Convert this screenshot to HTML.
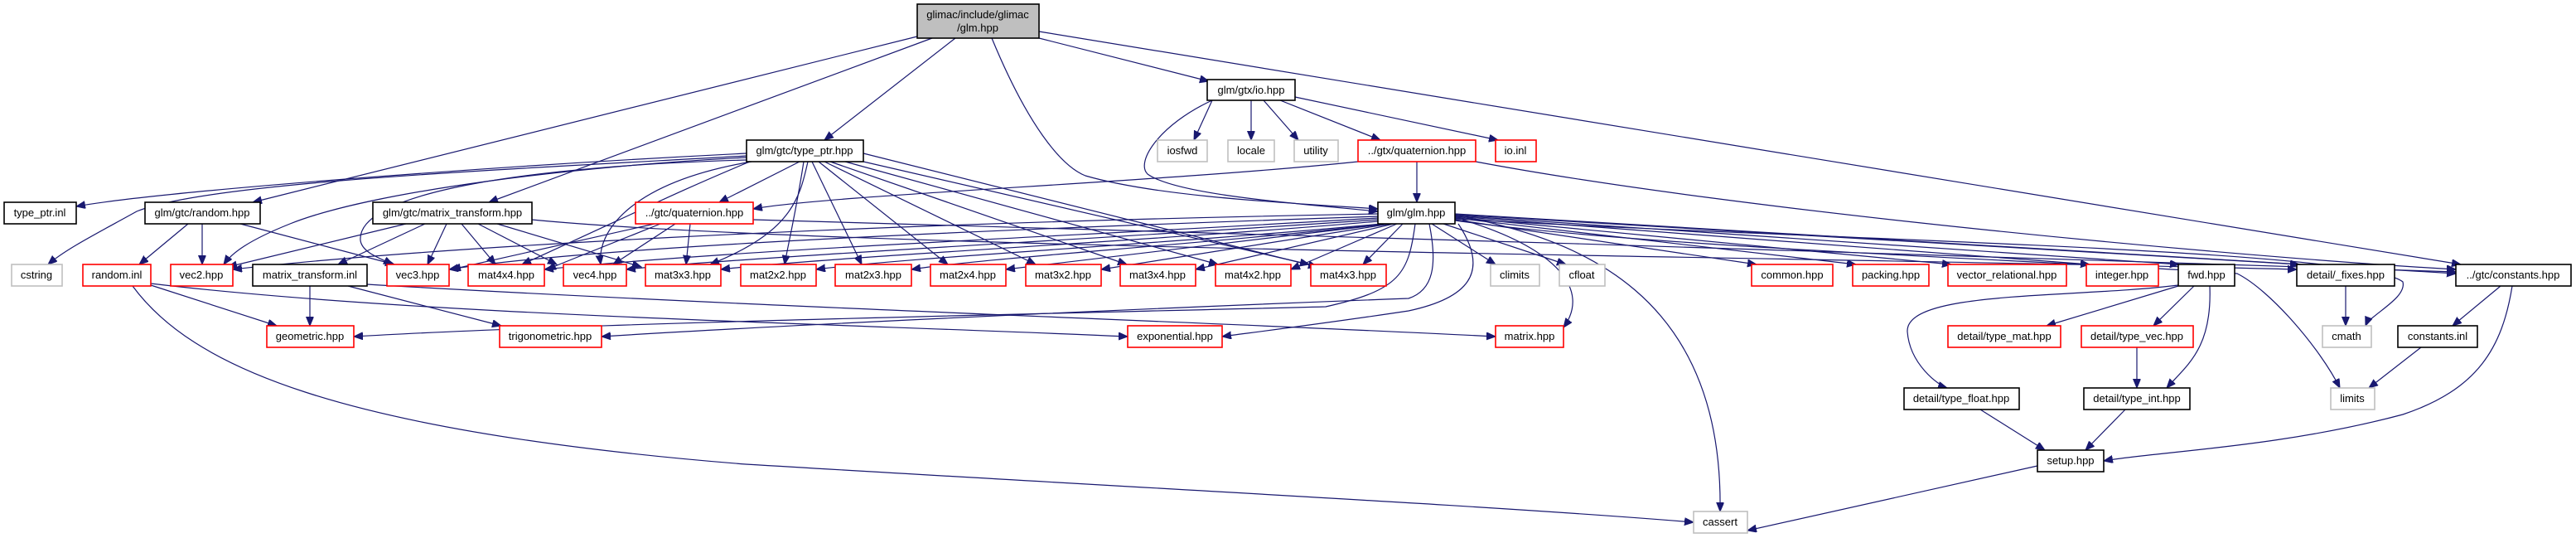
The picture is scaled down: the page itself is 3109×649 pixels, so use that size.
<!DOCTYPE html>
<html><head><meta charset="utf-8">
<style>
html,body{margin:0;padding:0;background:#fff;width:3109px;height:649px;overflow:hidden}
svg{display:block}
text{font-family:"Liberation Sans",Arial,sans-serif;font-size:13px;fill:#000;text-anchor:middle}
.n{fill:#fff;stroke-width:1.6}
.b{stroke:#000}.r{stroke:#ff0000}.g{stroke:#bfbfbf}
path{fill:none;stroke:#191970;stroke-width:1.2}
</style></head><body>
<svg width="3109" height="649" viewBox="0 0 3109 649" xmlns="http://www.w3.org/2000/svg">
<defs>
<marker id="a" markerWidth="12" markerHeight="10" refX="11" refY="4.5" orient="auto" markerUnits="userSpaceOnUse">
<polygon points="0,0 11,4.5 0,9" fill="#191970" stroke="#191970"/>
</marker>
</defs>
<g marker-end="url(#a)">
<!-- root -->
<path d="M1107,44 L305,244"/>
<path d="M1125,46 L590,244"/>
<path d="M1153,46 L995,169"/>
<path d="M1197,46 C1240,150 1280,200 1310,212 C1400,238 1560,245 1663,252"/>
<path d="M1254,46 L1459,98"/>
<path d="M1254,38 L2970,319"/>
<!-- io -->
<path d="M1463,121 L1441,169"/>
<path d="M1510,121 L1510,169"/>
<path d="M1525,121 L1567,169"/>
<path d="M1545,121 L1666,169"/>
<path d="M1563,117 L1808,169"/>
<path d="M1463,121 C1400,150 1370,195 1385,210 C1420,235 1560,245 1663,255"/>
<!-- gtx quaternion -->
<path d="M1710,195 L1710,244"/>
<path d="M1639,195 C1400,220 1000,235 909,252"/>
<path d="M1781,195 C2100,255 2700,310 2964,325"/>
<!-- type_ptr -->
<path d="M901,185 C600,200 200,230 92,249"/>
<path d="M901,188 C600,205 250,220 165,255 C120,280 80,300 58,319"/>
<path d="M901,190 C700,200 450,230 350,270 C300,290 280,305 270,319"/>
<path d="M901,193 C650,200 430,230 435,290 C437,305 460,312 474,319"/>
<path d="M905,195 C820,230 760,260 630,319"/>
<path d="M907,195 C760,220 720,280 725,319"/>
<path d="M965,195 L868,244"/>
<path d="M975,195 C965,240 955,280 857,319"/>
<path d="M970,195 C960,260 950,300 947,319"/>
<path d="M980,195 L1040,319"/>
<path d="M988,195 L1144,319"/>
<path d="M995,195 L1250,319"/>
<path d="M1002,195 L1360,319"/>
<path d="M1020,195 L1470,319"/>
<path d="M1042,195 L1580,319"/>
<path d="M1042,185 L1590,322"/>
<!-- random.hpp -->
<path d="M227,270 L168,319"/>
<path d="M244,270 L244,319"/>
<path d="M290,270 L476,319"/>
<!-- matrix_transform.hpp -->
<path d="M490,270 L275,322"/>
<path d="M513,270 L408,319"/>
<path d="M539,270 L516,319"/>
<path d="M557,270 L598,319"/>
<path d="M577,270 L672,319"/>
<path d="M600,270 L774,322"/>
<path d="M642,265 C1000,300 2200,310 2772,325"/>
<!-- gtc quaternion -->
<path d="M790,270 L545,325"/>
<path d="M797,270 L660,325"/>
<path d="M815,270 L740,319"/>
<path d="M833,270 L828,319"/>
<path d="M909,265 C1500,280 2400,310 2964,328"/>
<!-- glm.hpp -->
<path d="M1663,258 C1000,270 500,300 281,325"/>
<path d="M1663,261 C1100,280 700,300 542,325"/>
<path d="M1663,263 C1300,285 900,300 657,325"/>
<path d="M1663,265 C1300,290 900,310 756,325"/>
<path d="M1663,267 C1400,290 1000,310 870,325"/>
<path d="M1668,270 C1400,295 1100,310 985,325"/>
<path d="M1672,270 C1450,295 1200,310 1100,325"/>
<path d="M1675,270 L1214,325"/>
<path d="M1678,270 L1329,325"/>
<path d="M1682,270 L1443,325"/>
<path d="M1686,270 L1558,325"/>
<path d="M1693,270 L1645,319"/>
<path d="M1728,270 L1805,319"/>
<path d="M1742,270 L1890,319"/>
<path d="M1756,265 L2120,319"/>
<path d="M1756,263 L2240,319"/>
<path d="M1756,262 L2355,319"/>
<path d="M1756,261 L2522,319"/>
<path d="M1756,260 L2630,319"/>
<path d="M1756,259 L2775,319"/>
<path d="M1756,258 L2964,330"/>
<path d="M1708,270 C1700,330 1690,350 1600,370 C1200,380 700,390 427,406"/>
<path d="M1725,270 C1735,320 1730,350 1700,360 C1300,375 900,395 726,406"/>
<path d="M1760,270 C1800,330 1770,360 1700,375 C1600,390 1520,400 1475,406"/>
<path d="M1765,265 C1880,300 1920,350 1887,395"/>
<path d="M1770,262 C1900,290 2080,350 2076,617"/>
<path d="M1756,266 C2000,300 2500,315 2700,330 C2740,350 2800,420 2824,468"/>
<path d="M1756,264 C2200,290 2850,300 2900,340 C2905,360 2860,380 2855,393"/>
<!-- random.inl -->
<path d="M182,344 L334,393"/>
<path d="M182,342 C500,380 1000,390 1361,406"/>
<path d="M160,345 C230,440 400,520 900,560 C1400,590 1800,610 2044,630"/>
<!-- matrix_transform.inl -->
<path d="M374,345 L374,393"/>
<path d="M420,345 L605,393"/>
<path d="M443,343 C900,370 1500,390 1805,406"/>
<!-- fwd -->
<path d="M2629,344 C2500,360 2300,350 2302,400 C2305,440 2340,465 2350,468"/>
<path d="M2629,345 L2470,393"/>
<path d="M2648,345 L2599,393"/>
<path d="M2667,345 C2670,420 2640,440 2615,468"/>
<path d="M2579,419 L2579,468"/>
<!-- type_float / type_int -> setup -->
<path d="M2390,494 L2468,543"/>
<path d="M2565,494 L2517,543"/>
<!-- _fixes, constants -->
<path d="M2831,345 L2831,393"/>
<path d="M3018,345 L2960,393"/>
<path d="M3032,345 C3020,420 2990,470 2900,500 C2750,540 2600,545 2539,556"/>
<path d="M2922,419 L2859,468"/>
<path d="M2459,562 L2109,640"/>
</g>
<!-- nodes -->
<rect class="n" x="1107" y="5" width="147" height="41" style="fill:#bfbfbf;stroke:#000"/>
<text x="1180" y="22">glimac/include/glimac</text><text x="1180" y="38">/glm.hpp</text>
<rect class="n b" x="1457" y="96" width="106" height="25"/><text x="1510" y="113">glm/gtx/io.hpp</text>
<rect class="n b" x="901" y="169" width="141" height="26"/><text x="971" y="186">glm/gtc/type_ptr.hpp</text>
<rect class="n g" x="1397" y="169" width="60" height="26"/><text x="1427" y="186">iosfwd</text>
<rect class="n g" x="1482" y="169" width="56" height="26"/><text x="1510" y="186">locale</text>
<rect class="n g" x="1562" y="169" width="53" height="26"/><text x="1588" y="186">utility</text>
<rect class="n r" x="1639" y="169" width="142" height="26"/><text x="1710" y="186">../gtx/quaternion.hpp</text>
<rect class="n r" x="1805" y="169" width="49" height="26"/><text x="1829" y="186">io.inl</text>
<rect class="n b" x="5" y="244" width="87" height="26"/><text x="48" y="261">type_ptr.inl</text>
<rect class="n b" x="175" y="244" width="139" height="26"/><text x="244" y="261">glm/gtc/random.hpp</text>
<rect class="n b" x="450" y="244" width="192" height="26"/><text x="546" y="261">glm/gtc/matrix_transform.hpp</text>
<rect class="n r" x="767" y="244" width="142" height="26"/><text x="838" y="261">../gtc/quaternion.hpp</text>
<rect class="n b" x="1663" y="244" width="93" height="26"/><text x="1709" y="261">glm/glm.hpp</text>
<g>
<rect class="n g" x="14" y="319" width="61" height="26"/><text x="44" y="336">cstring</text>
<rect class="n r" x="100" y="319" width="82" height="26"/><text x="141" y="336">random.inl</text>
<rect class="n r" x="206" y="319" width="75" height="26"/><text x="243" y="336">vec2.hpp</text>
<rect class="n b" x="305" y="319" width="138" height="26"/><text x="374" y="336">matrix_transform.inl</text>
<rect class="n r" x="467" y="319" width="75" height="26"/><text x="504" y="336">vec3.hpp</text>
<rect class="n r" x="565" y="319" width="92" height="26"/><text x="611" y="336">mat4x4.hpp</text>
<rect class="n r" x="680" y="319" width="76" height="26"/><text x="718" y="336">vec4.hpp</text>
<rect class="n r" x="779" y="319" width="91" height="26"/><text x="824" y="336">mat3x3.hpp</text>
<rect class="n r" x="894" y="319" width="91" height="26"/><text x="939" y="336">mat2x2.hpp</text>
<rect class="n r" x="1008" y="319" width="92" height="26"/><text x="1054" y="336">mat2x3.hpp</text>
<rect class="n r" x="1123" y="319" width="91" height="26"/><text x="1168" y="336">mat2x4.hpp</text>
<rect class="n r" x="1238" y="319" width="91" height="26"/><text x="1283" y="336">mat3x2.hpp</text>
<rect class="n r" x="1352" y="319" width="91" height="26"/><text x="1397" y="336">mat3x4.hpp</text>
<rect class="n r" x="1467" y="319" width="91" height="26"/><text x="1512" y="336">mat4x2.hpp</text>
<rect class="n r" x="1582" y="319" width="91" height="26"/><text x="1627" y="336">mat4x3.hpp</text>
<rect class="n g" x="1799" y="319" width="59" height="26"/><text x="1828" y="336">climits</text>
<rect class="n g" x="1882" y="319" width="55" height="26"/><text x="1909" y="336">cfloat</text>
<rect class="n r" x="2114" y="319" width="98" height="26"/><text x="2163" y="336">common.hpp</text>
<rect class="n r" x="2236" y="319" width="92" height="26"/><text x="2282" y="336">packing.hpp</text>
<rect class="n r" x="2351" y="319" width="143" height="26"/><text x="2422" y="336">vector_relational.hpp</text>
<rect class="n r" x="2518" y="319" width="87" height="26"/><text x="2561" y="336">integer.hpp</text>
<rect class="n b" x="2629" y="319" width="68" height="26"/><text x="2663" y="336">fwd.hpp</text>
<rect class="n b" x="2772" y="319" width="118" height="26"/><text x="2831" y="336">detail/_fixes.hpp</text>
<rect class="n b" x="2964" y="319" width="139" height="26"/><text x="3033" y="336">../gtc/constants.hpp</text>
</g>
<rect class="n r" x="322" y="393" width="105" height="26"/><text x="374" y="410">geometric.hpp</text>
<rect class="n r" x="603" y="393" width="123" height="26"/><text x="664" y="410">trigonometric.hpp</text>
<rect class="n r" x="1361" y="393" width="114" height="26"/><text x="1418" y="410">exponential.hpp</text>
<rect class="n r" x="1805" y="393" width="82" height="26"/><text x="1846" y="410">matrix.hpp</text>
<rect class="n r" x="2351" y="393" width="136" height="26"/><text x="2419" y="410">detail/type_mat.hpp</text>
<rect class="n r" x="2512" y="393" width="135" height="26"/><text x="2579" y="410">detail/type_vec.hpp</text>
<rect class="n g" x="2803" y="393" width="59" height="26"/><text x="2832" y="410">cmath</text>
<rect class="n b" x="2894" y="393" width="96" height="26"/><text x="2942" y="410">constants.inl</text>
<rect class="n b" x="2298" y="468" width="139" height="26"/><text x="2367" y="485">detail/type_float.hpp</text>
<rect class="n b" x="2515" y="468" width="128" height="26"/><text x="2579" y="485">detail/type_int.hpp</text>
<rect class="n g" x="2813" y="468" width="53" height="26"/><text x="2839" y="485">limits</text>
<rect class="n b" x="2459" y="543" width="80" height="26"/><text x="2499" y="560">setup.hpp</text>
<rect class="n g" x="2044" y="617" width="65" height="26"/><text x="2076" y="634">cassert</text>
</svg>
</body></html>
